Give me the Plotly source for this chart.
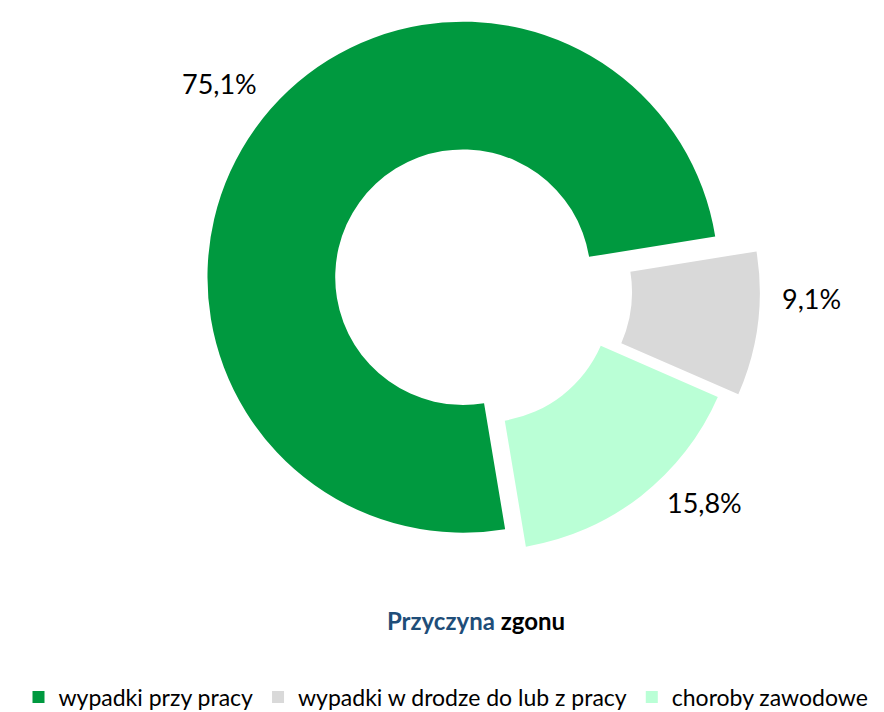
import plotly.graph_objects as go

# data
categories = ['wypadki przy pracy', 'wypadki w drodze do lub z pracy', 'choroby zawodowe']
shares = [75.1, 9.1, 15.8]
share_labels = ['75,1%', '9,1%', '15,8%']
colors = ['#00993F', '#D9D9D9', '#BAFFD6']

# page body adds an 8px offset, so the figure is drawn 8px smaller
W, H = 876, 704

fig = go.Figure()
fig.add_trace(go.Pie(
    labels=categories,
    values=shares,
    textinfo='none',
    marker=dict(colors=colors, line=dict(width=0)),
    hole=0.5,
    sort=False,
    direction='clockwise',
    rotation=170.5,
    pull=[0.078, 0.099, 0.029],
    domain=dict(x=[0.2173, 0.8584], y=[0.2023, 1.0]),
    hoverinfo='label+percent',
))

# percentage labels placed like in the original (outside the ring)
label_pos = [(211.5, 75), (803.7, 290.3), (696, 494.5)]
for txt, (px, py) in zip(share_labels, label_pos):
    fig.add_annotation(
        text=txt, x=px / W, y=1 - py / H, xref='paper', yref='paper',
        xanchor='center', yanchor='middle', showarrow=False,
        font=dict(family='Lato', size=27, color='#000000'),
    )

fig.update_layout(
    width=W,
    height=H,
    margin=dict(l=0, r=0, t=0, b=0, autoexpand=False),
    paper_bgcolor='white',
    plot_bgcolor='white',
    font=dict(family='Lato', color='#000000'),
    title=dict(
        text="<b><span style='color:#1F4E79'>Przyczyna</span> zgonu</b>",
        x=468 / W, xanchor='center',
        y=1 - 614 / H, yanchor='middle',
        font=dict(family='Lato', size=24, color='#000000'),
    ),
    showlegend=True,
    legend=dict(
        orientation='h',
        x=0.5, xanchor='center',
        y=1 - 689 / H, yanchor='middle',
        font=dict(family='Lato', size=23, color='#000000'),
        itemwidth=30,
        traceorder='normal',
    ),
)

fig.write_html("out.html")
